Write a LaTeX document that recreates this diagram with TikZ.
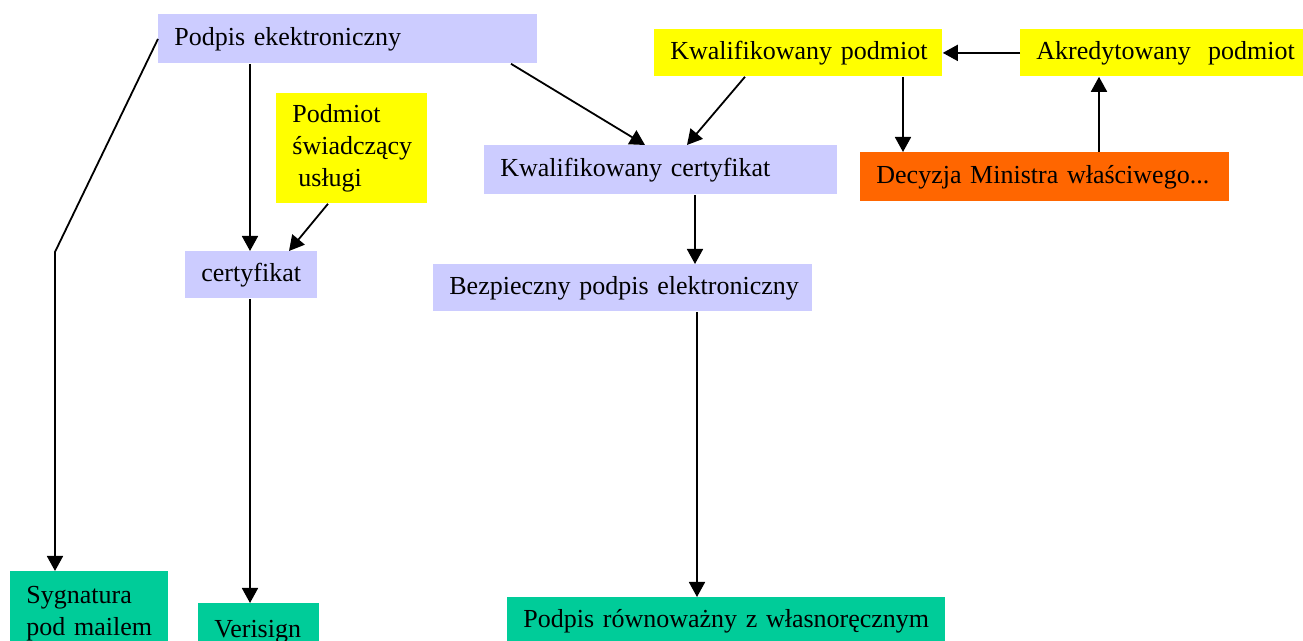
\documentclass[tikz,border=0pt]{standalone}
\usepackage{fontspec}
\setmainfont{Liberation Serif}
\usetikzlibrary{arrows.meta}
\definecolor{lav}{HTML}{CCCCFF}
\definecolor{yel}{HTML}{FFFF00}
\definecolor{orng}{HTML}{FF6600}
\definecolor{grn}{HTML}{00CC99}
\hyphenpenalty=10000
\exhyphenpenalty=10000
\tikzset{
  box/.style={anchor=north west, inner xsep=8pt, inner ysep=0pt, align=left,
    font=\fontsize{13}{16}\selectfont},
  lavbox/.style={box, fill=lav},
  yelbox/.style={box, fill=yel},
  orngbox/.style={box, fill=orng},
  grnbox/.style={box, fill=grn},
  arr/.style={-{Triangle[length=7.5pt,width=8pt]}, line width=0.9pt}
}
\begin{document}
\begin{tikzpicture}[x=0.5pt,y=-0.5pt]
\useasboundingbox (0,0) rectangle (1303,641);
\clip (0,0) rectangle (1303,641);
% boxes
\node[lavbox, text width=173.5pt, minimum height=24.5pt] (pe) at (158,14) {Podpis~ekektroniczny};
\node[yelbox, text width=128pt, minimum height=23.5pt] (kwp) at (654,29) {Kwalifikowany~podmiot};
\node[yelbox, text width=129pt, minimum height=23.5pt] (akr) at (1020,29) {Akredytowany~~podmiot};
\node[yelbox, text width=59.5pt, minimum height=55pt] (pswu) at (276,93) {Podmiot\\świadczący\\\hspace*{3pt}usługi};
\node[lavbox, text width=160.5pt, minimum height=24.5pt] (kwc) at (484,145) {Kwalifikowany~certyfikat};
\node[orngbox, text width=168.5pt, minimum height=24.5pt] (dec) at (860,152) {Decyzja~Ministra~właściwego...};
\node[lavbox, text width=50pt, minimum height=23.5pt] (cert) at (185,251) {certyfikat};
\node[lavbox, text width=173.5pt, minimum height=23.5pt] (bezp) at (433,264) {Bezpieczny~podpis~elektroniczny};
\node[grnbox, text width=63pt, minimum height=42pt] (sygn) at (10,571) {Sygnatura\\pod~mailem};
\node[grnbox, text width=44.5pt, minimum height=28pt] (veri) at (198,603) {Verisign};
\node[grnbox, text width=203pt, minimum height=24pt] (prw) at (507,597) {Podpis~równoważny~z~własnoręcznym};
% connectors
\coordinate (knee) at (55,252);
\draw[arr] (pe.west) -- (knee) -- (55,0 |- sygn.north);
\draw[arr] (250,0 |- pe.south) -- (250,0 |- cert.north);
\draw[arr] (328,0 |- pswu.south) -- (289,0 |- cert.north);
\draw[arr] (250,0 |- cert.south) -- (250,0 |- veri.north);
\draw[arr] (511,0 |- pe.south) -- (645,0 |- kwc.north);
\draw[arr] (745,0 |- kwp.south) -- (687,0 |- kwc.north);
\draw[arr] (akr.west) -- (kwp.east);
\draw[arr] (903,0 |- kwp.south) -- (903,0 |- dec.north);
\draw[arr] (1099,0 |- dec.north) -- (1099,0 |- akr.south);
\draw[arr] (695,0 |- kwc.south) -- (695,0 |- bezp.north);
\draw[arr] (697,0 |- bezp.south) -- (697,0 |- prw.north);
\end{tikzpicture}
\end{document}
